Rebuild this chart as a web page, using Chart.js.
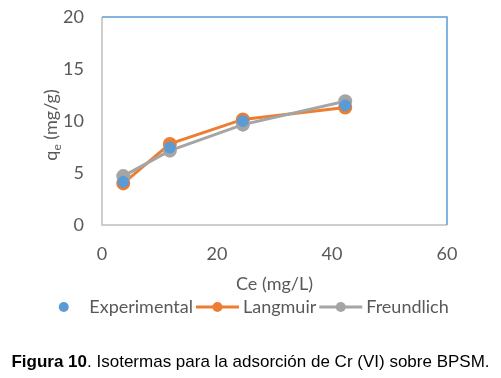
<!DOCTYPE html>
<html lang="es">
<head>
<meta charset="UTF-8">
<title>Isotermas Cr (VI) - BPSM</title>
<script src="https://cdn.jsdelivr.net/npm/chart.js"></script>
<style>
  html, body { margin: 0; padding: 0; background: #fff; }
  .wrap { position: relative; width: 501px; height: 378px; }
  #chart { position: absolute; left: 0; top: 0; }
  .caption {
    position: absolute; left: 0; width: 501px; top: 352px;
    text-align: center; font: 17px "Liberation Sans", Arial, sans-serif; color: #000;
  }
</style>
</head>
<body>
<div class="wrap">
  <canvas id="chart" width="501" height="378"></canvas>
  <div class="caption"><b>Figura 10</b>. Isotermas para la adsorción de Cr (VI) sobre BPSM.</div>
</div>

<script>
// Ce (mg/L) values shared by all series
const ce = [3.7, 11.8, 24.5, 42.3];
const experimental = [4.15, 7.45, 10.0, 11.5];
const langmuir = [4.0, 7.8, 10.15, 11.3];
const freundlich = [4.7, 7.15, 9.65, 11.9];

const xTicks = [0, 20, 40, 60];
const yTicks = [0, 5, 10, 15, 20];

const FONT = 'Lato, "Open Sans", sans-serif';
const TEXT = '#595959';
const SIZE = 18;

function pts(ys) {
  return ce.map((x, i) => ({ x: x, y: ys[i] }));
}

// frame round the plot: grey left/bottom, blue top/right
const frame = {
  id: 'frame',
  beforeDatasetsDraw(chart) {
    const a = chart.chartArea, c = chart.ctx;
    c.save();
    c.lineWidth = 1.5;
    c.strokeStyle = '#bfbfbf';
    c.beginPath();
    c.moveTo(a.left, a.top); c.lineTo(a.left, a.bottom); c.lineTo(a.right, a.bottom);
    c.stroke();
    c.strokeStyle = '#5b9bd5';
    c.beginPath();
    c.moveTo(a.left, a.top); c.lineTo(a.right, a.top); c.lineTo(a.right, a.bottom);
    c.stroke();
    c.restore();
  }
};

// y title with subscript e
const yTitle = {
  id: 'yTitle',
  afterDraw(chart) {
    const a = chart.chartArea, c = chart.ctx;
    c.save();
    c.translate(51, (a.top + a.bottom) / 2 + 4);
    c.rotate(-Math.PI / 2);
    c.fillStyle = TEXT;
    c.textBaseline = 'middle';
    const big = SIZE + 'px ' + FONT, small = '12px ' + FONT;
    c.font = big; const wq = c.measureText('q').width;
    c.font = small; const we = c.measureText('e').width;
    c.font = big; const wr = c.measureText(' (mg/g)').width;
    let x = -(wq + we + wr) / 2;
    c.textAlign = 'left';
    c.font = big; c.fillText('q', x, 0); x += wq;
    c.font = small; c.fillText('e', x, 6); x += we;
    c.font = big; c.fillText(' (mg/g)', x, 0);
    c.restore();
  }
};

// legend: marker only for scatter, line + marker for the models
const legendRow = {
  id: 'legendRow',
  afterDraw(chart) {
    const c = chart.ctx;
    const sets = chart.data.datasets;
    const symW = 43, gap = 4, itemGap = 3, y = 307;
    c.save();
    c.font = SIZE + 'px ' + FONT;
    c.textBaseline = 'middle';
    const widths = sets.map(d => symW + gap + c.measureText(d.label).width);
    const total = widths.reduce((s, w) => s + w, 0) + itemGap * (sets.length - 1);
    let x = (chart.width - total) / 2 - 5;
    sets.forEach((d, i) => {
      if (d.showLine !== false) {
        c.strokeStyle = d.borderColor;
        c.lineWidth = 3;
        c.beginPath(); c.moveTo(x, y); c.lineTo(x + symW, y); c.stroke();
      }
      c.fillStyle = d.pointBackgroundColor;
      c.beginPath(); c.arc(x + symW / 2, y, 5, 0, Math.PI * 2); c.fill();
      c.fillStyle = TEXT;
      c.fillText(d.label, x + symW + gap, y);
      x += widths[i] + itemGap;
    });
    c.restore();
  }
};

new Chart(document.getElementById('chart'), {
  type: 'line',
  data: {
    datasets: [
      {
        label: 'Experimental', data: pts(experimental), showLine: false,
        borderColor: '#5b9bd5', backgroundColor: '#5b9bd5', pointBackgroundColor: '#5b9bd5',
        pointBorderColor: '#5b9bd5', pointRadius: 5.5, order: 0
      },
      {
        label: 'Langmuir', data: pts(langmuir),
        borderColor: '#ed7d31', backgroundColor: '#ed7d31', pointBackgroundColor: '#ed7d31',
        pointBorderColor: '#ed7d31', borderWidth: 3, pointRadius: 5.5, order: 2
      },
      {
        label: 'Freundlich', data: pts(freundlich),
        borderColor: '#a5a5a5', backgroundColor: '#a5a5a5', pointBackgroundColor: '#a5a5a5',
        pointBorderColor: '#a5a5a5', borderWidth: 3, pointRadius: 5.5, order: 1
      }
    ]
  },
  options: {
    responsive: false,
    animation: false,
    devicePixelRatio: 1,
    layout: { padding: { top: 17, left: 0, right: 54, bottom: 78 } },
    plugins: { legend: { display: false }, tooltip: { enabled: false } },
    scales: {
      x: {
        type: 'linear', min: 0, max: 60,
        afterBuildTicks: s => { s.ticks = xTicks.map(v => ({ value: v })); },
        afterFit: s => { s.height = 75; },
        grid: { display: false, drawTicks: false },
        border: { display: false },
        ticks: { padding: 18, color: TEXT, font: { family: FONT, size: SIZE } },
        title: {
          display: true, text: 'Ce (mg/L)', color: TEXT,
          font: { family: FONT, size: SIZE }, padding: { top: 0, bottom: 5 }
        }
      },
      y: {
        type: 'linear', min: 0, max: 20,
        afterBuildTicks: s => { s.ticks = yTicks.map(v => ({ value: v })); },
        afterFit: s => { s.width = 102; s.paddingTop = 0; s.paddingBottom = 0; },
        grid: { display: false, drawTicks: false },
        border: { display: false },
        ticks: { padding: 18, color: TEXT, font: { family: FONT, size: SIZE } }
      }
    }
  },
  plugins: [frame, yTitle, legendRow]
});
</script>
</body>
</html>
